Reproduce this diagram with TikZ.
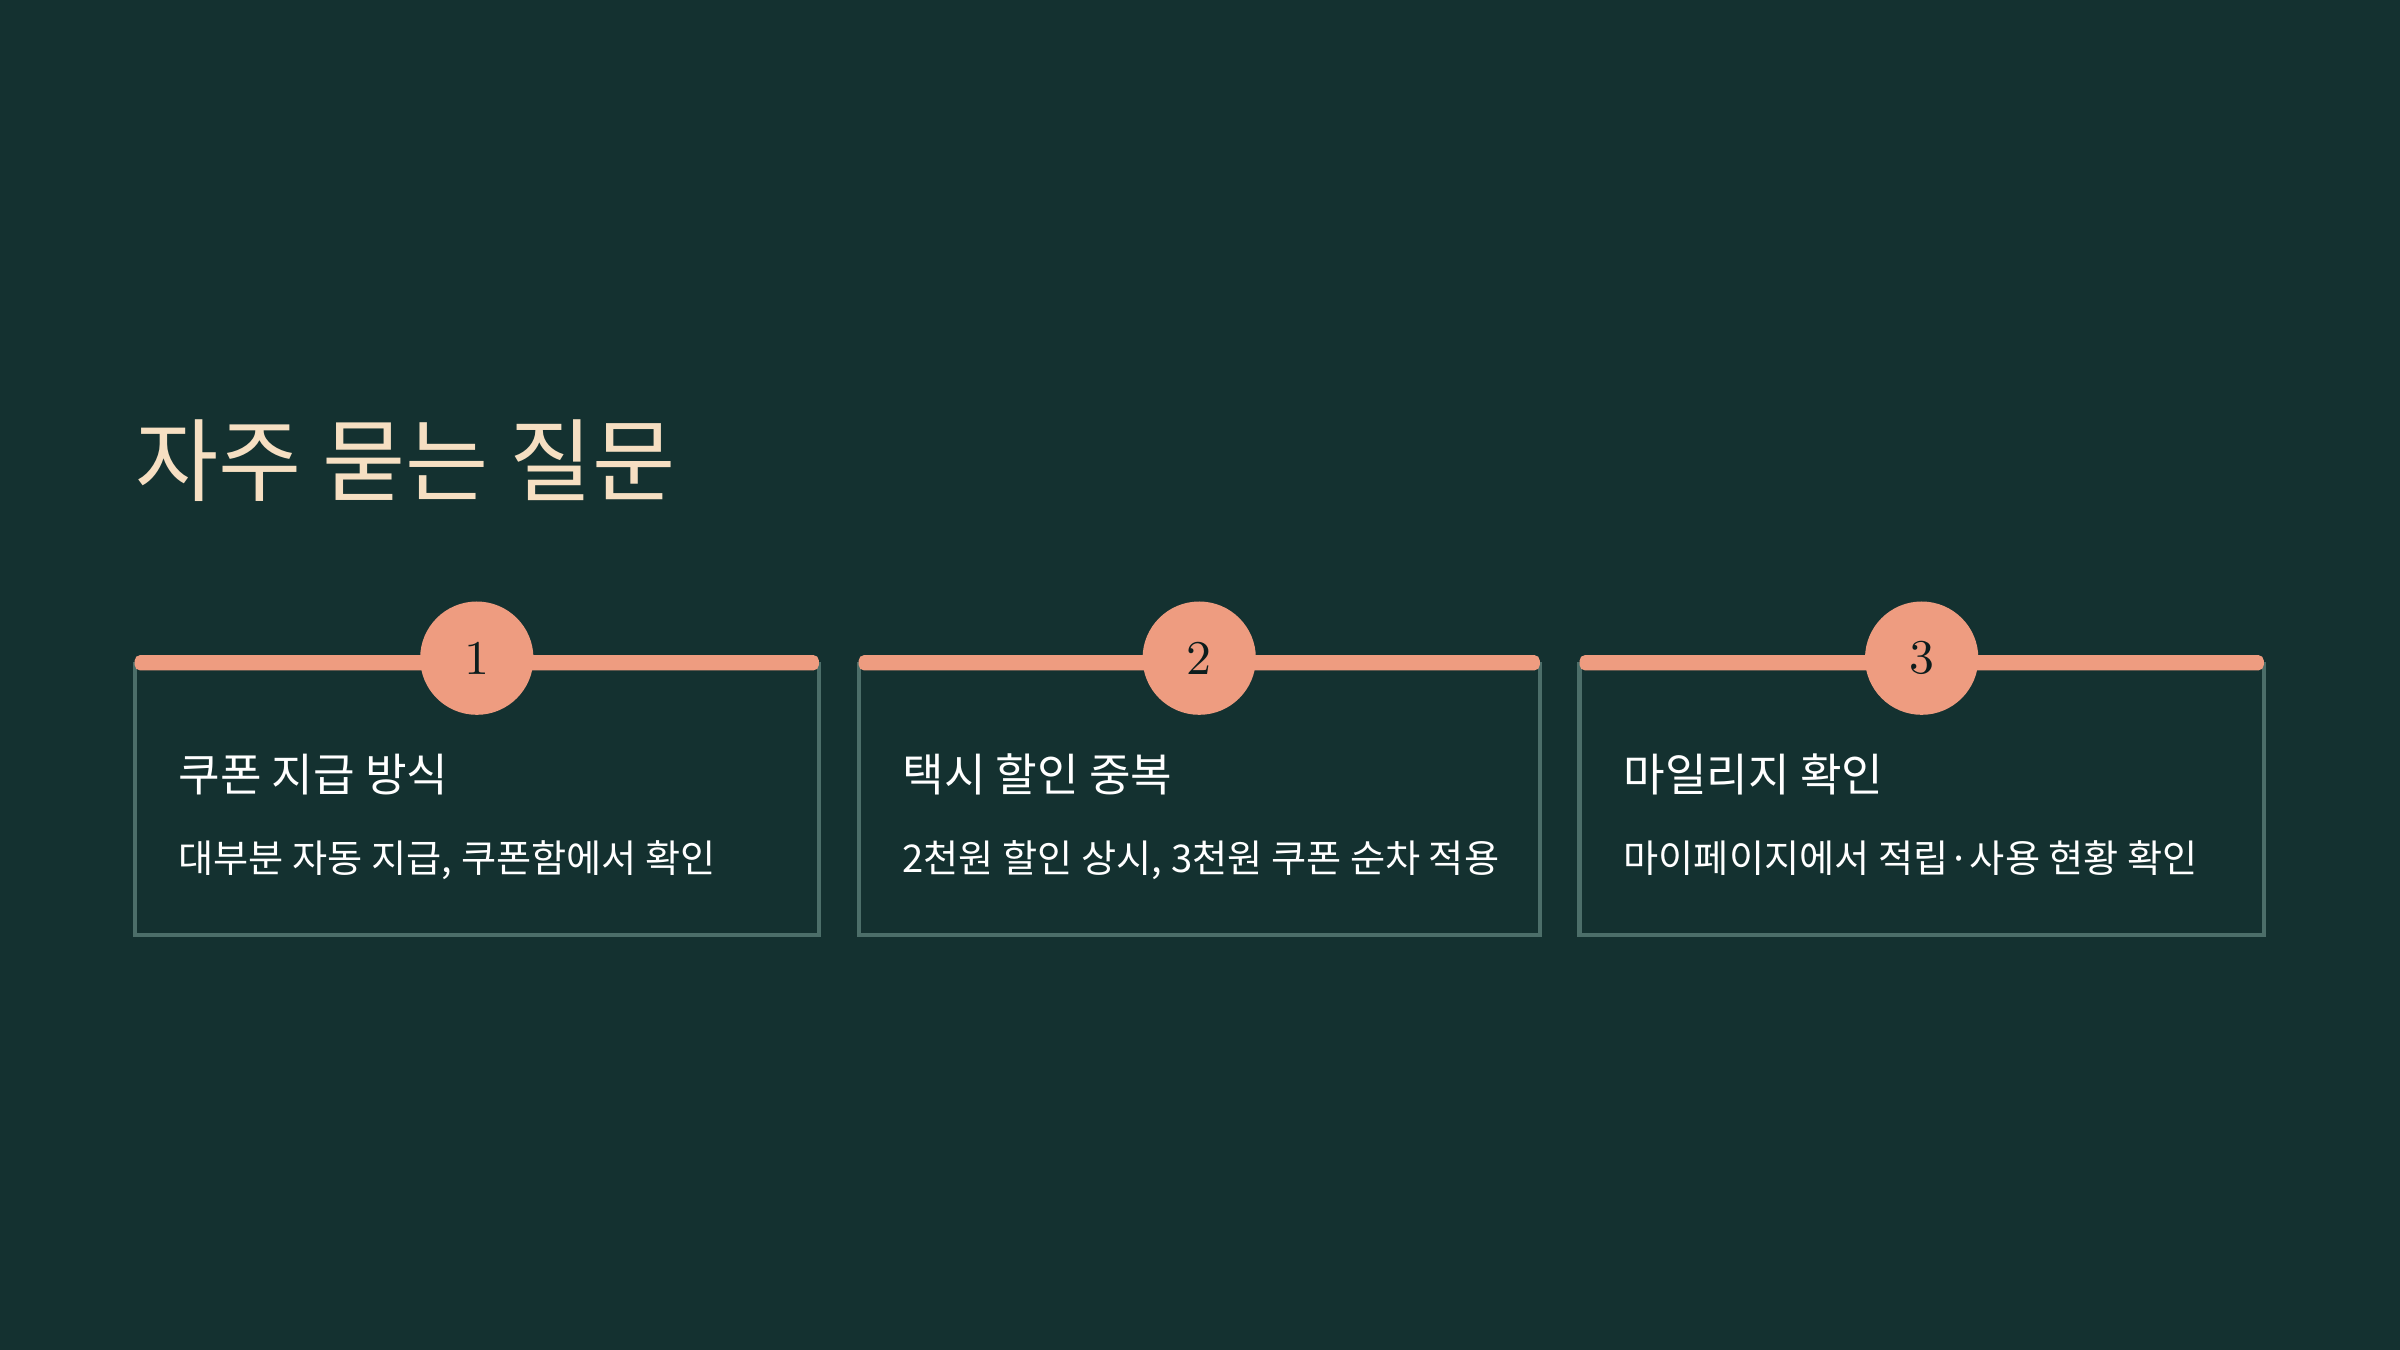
\documentclass[tikz,border=0pt]{standalone}
\usepackage{fontspec}
\newfontfamily\kr{Noto Sans CJK KR}
\definecolor{bg}{HTML}{143130}
\definecolor{cream}{HTML}{F6DFC2}
\definecolor{salmon}{HTML}{EE9C80}
\definecolor{edge}{HTML}{4C6E69}
\begin{document}
\begin{tikzpicture}[x=0.01cm,y=-0.01cm,
  card/.style={draw=edge,line width=0.8pt},
  bar/.style={fill=salmon,rounded corners=1pt},
  badge/.style={circle,fill=salmon,minimum size=0.74cm,inner sep=0pt,font=\fontsize{9pt}{9pt}\selectfont,text=bg!60!black},
  head/.style={anchor=base west,text=white,font=\kr\fontsize{8.4pt}{10pt}\selectfont,inner sep=0pt},
  body/.style={anchor=base west,text=white,font=\kr\fontsize{7.1pt}{9pt}\selectfont,inner sep=0pt}]
\fill[bg] (0,0) rectangle (1568,882);
\useasboundingbox (0,0) rectangle (1568,882);
\node[anchor=base west,text=cream,font=\kr\fontsize{16.8pt}{20pt}\selectfont,inner sep=0pt] (title) at (88,323) {자주 묻는 질문};
\foreach \i/\l/\r/\h/\b in {1/88/535/쿠폰 지급 방식/{대부분 자동 지급, 쿠폰함에서 확인},
  2/561/1006/택시 할인 중복/{2천원 할인 상시, 3천원 쿠폰 순차 적용},
  3/1032/1479/마일리지 확인/{마이페이지에서 적립·사용 현황 확인}}{
  \draw[card] (\l,434) rectangle (\r,611);
  \fill[bar] (\l,428) rectangle (\r,438);
  \node[badge] (n\i) at ({(\l+\r)/2},430) {\i};
  \node[head] (h\i) at (\l+28,517) {\h};
  \node[body] (b\i) at (\l+28,570) {\b};
}
\end{tikzpicture}
\end{document}
